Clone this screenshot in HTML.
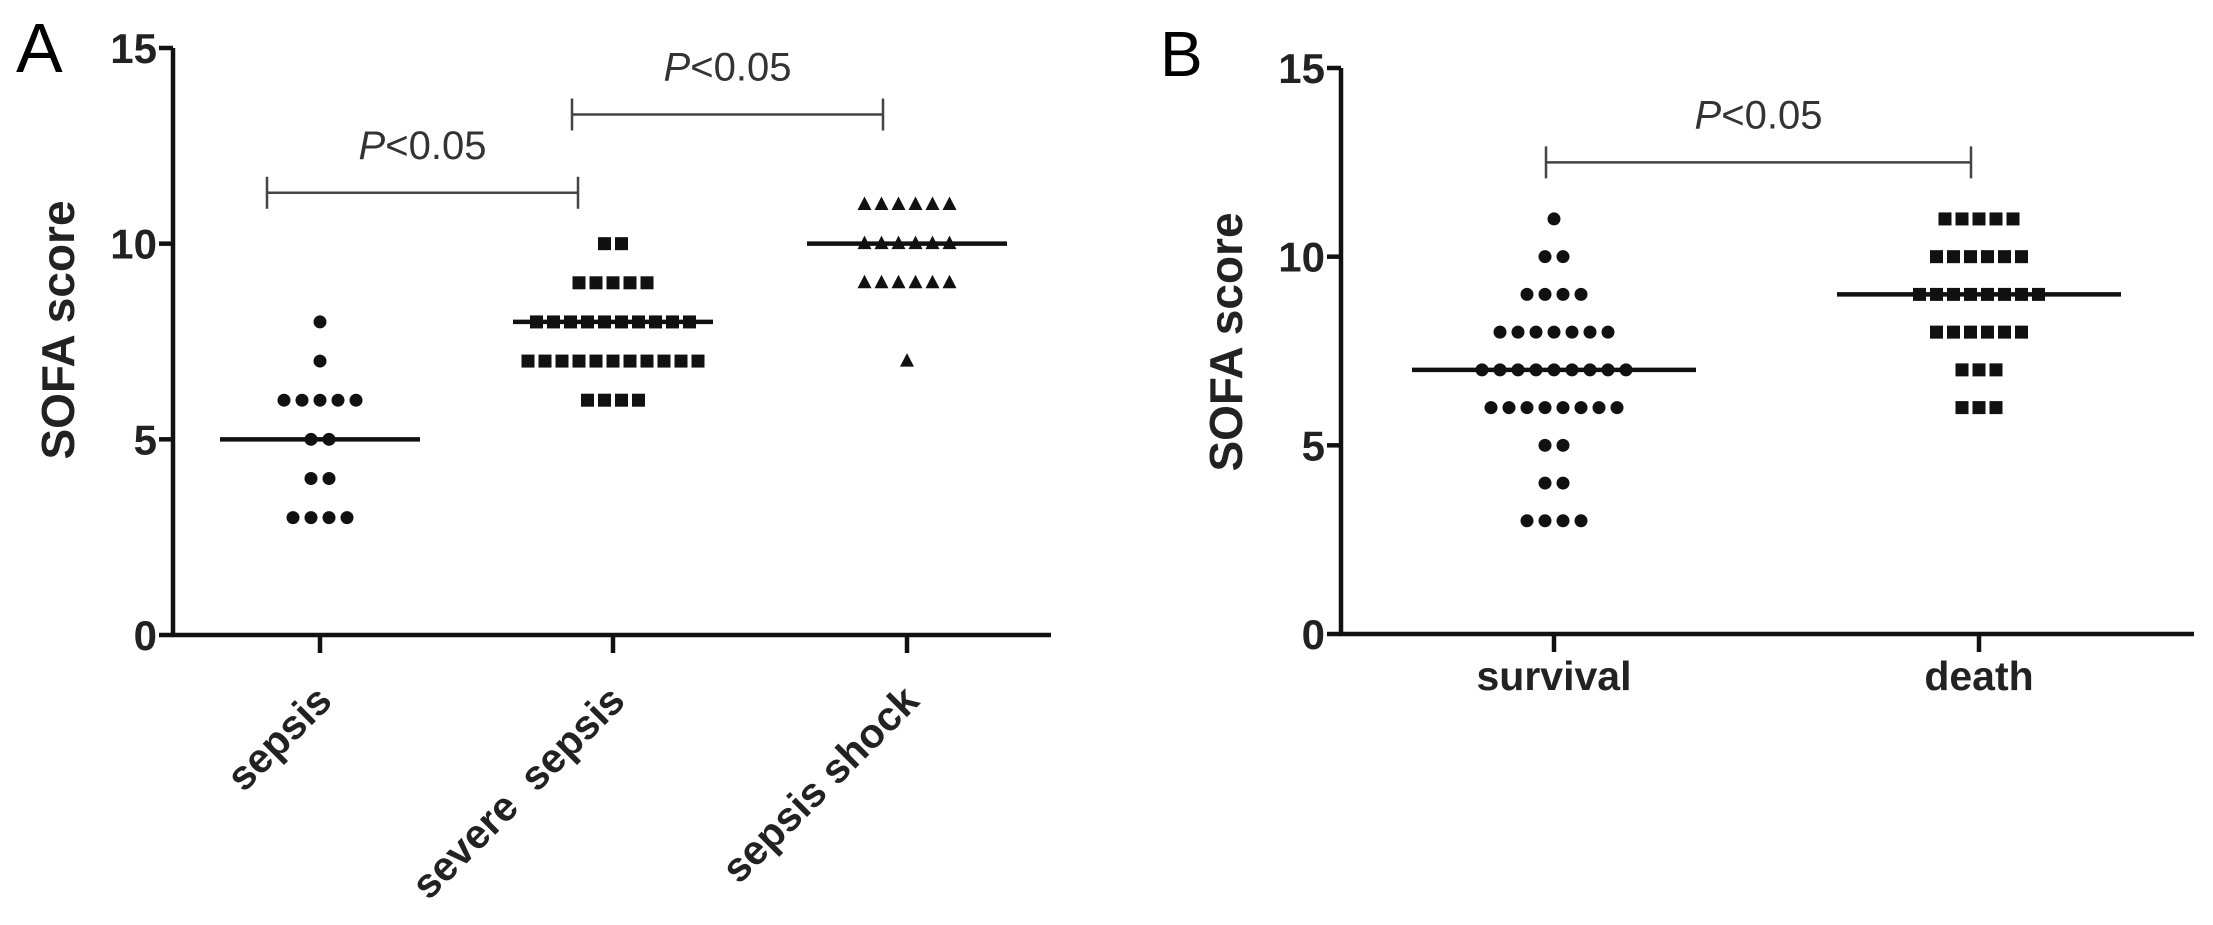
<!DOCTYPE html>
<html><head><meta charset="utf-8"><style>
html,body{margin:0;padding:0;background:#fff;}
svg{display:block;font-family:"Liberation Sans",Arial,sans-serif;}
text{white-space:pre;}
</style></head><body>
<svg id="fig" width="2213" height="925" viewBox="0 0 2213 925">
<text x="16" y="72" font-size="70">A</text>
<text x="1160" y="76" font-size="64">B</text>
<g id="pa"></g>
<g id="pb"></g>
</svg>
<script>
const aCategories = ["sepsis", "severe  sepsis", "sepsis shock"];
const aScores = [3,4,5,6,7,8];
const aSepsisCounts = [4,2,2,5,1,1];
const aSevereScores = [6,7,8,9,10];
const aSevereCounts = [4,11,10,5,2];
const aShockScores = [7,9,10,11];
const aShockCounts = [1,6,6,6];
const aMedians = [5,8,10];
const bCategories = ["survival","death"];
const bSurvScores = [3,4,5,6,7,8,9,10,11];
const bSurvCounts = [4,2,2,8,9,7,4,2,1];
const bDeathScores = [6,7,8,9,10,11];
const bDeathCounts = [3,3,6,8,6,5];
const bMedians = [7,9];
const yTicks = [0,5,10,15];

const NS="http://www.w3.org/2000/svg";
function mk(p,tag,at){const e=document.createElementNS(NS,tag);for(const k in at)e.setAttribute(k,at[k]);p.appendChild(e);return e;}

function panel(g,o){
  const y=v=>o.y0-(o.y0-o.y15)*v/15;
  const x=i=>o.cx[i];
  let e=mk(g,'line',{x1:o.ax,y1:o.y15,x2:o.ax,y2:o.y0+2,stroke:'#111','stroke-width':4.5});
  
  e=mk(g,'line',{x1:o.ax-2,y1:o.y0,x2:o.xend,y2:o.y0,stroke:'#111','stroke-width':4.5});
  
  yTicks.forEach(t=>{
    let l=mk(g,'line',{x1:o.ax-14,y1:y(t),x2:o.ax,y2:y(t),stroke:'#111','stroke-width':4.5});
    
    let tx=mk(g,'text',{x:o.ax-16,y:y(t)+15,'font-size':42,'font-weight':'bold','text-anchor':'end',fill:'#222'});
    tx.textContent=t;
    
  });
  let yt=mk(g,'text',{x:0,y:0,'font-size':46,'font-weight':'bold','text-anchor':'middle',fill:'#222',transform:`translate(${o.titleX},${o.titleY}) rotate(-90)`});
  yt.textContent='SOFA score';
  o.cats.forEach((c,i)=>{
    let l=mk(g,'line',{x1:x(i),y1:o.y0,x2:x(i),y2:o.y0+18,stroke:'#111','stroke-width':4.5});
    
    let t;
    if(o.rot){t=mk(g,'text',{x:0,y:0,'font-size':41,'font-weight':'bold','text-anchor':'end',fill:'#222',transform:`translate(${x(i)+14},${o.y0+68}) rotate(-45)`});}
    else{t=mk(g,'text',{x:x(i),y:o.y0+56,'font-size':41,'font-weight':'bold','text-anchor':'middle',fill:'#222'});}
    t.textContent=c;
  });
  o.series.forEach((s,i)=>{
    const sp = s.shape==='c'?18:17;
    s.scores.forEach((v,j)=>{
      const n=s.counts[j];
      for(let k=0;k<n;k++){
        const px=x(i)+(k-(n-1)/2)*sp, py=y(v);
        let m;
        if(s.shape==='c')m=mk(g,'circle',{cx:px,cy:py,r:6.5,fill:'#111'});
        else if(s.shape==='s')m=mk(g,'rect',{x:px-6.5,y:py-6.5,width:13,height:13,fill:'#111'});
        else m=mk(g,'polygon',{points:`${px},${py-8} ${px-7},${py+5.5} ${px+7},${py+5.5}`,fill:'#111'});
        
      }
    });
  });
  o.medians.forEach((v,i)=>{
    let l=mk(g,'line',{x1:x(i)-o.mw,y1:y(v),x2:x(i)+o.mw,y2:y(v),stroke:'#111','stroke-width':4.5});
    
  });
  o.brackets.forEach(b=>{
    const by=y(b.v);
    let p=mk(g,'path',{d:`M${b.x1},${by-16}V${by+16}M${b.x1},${by}H${b.x2}M${b.x2},${by-16}V${by+16}`,stroke:'#444','stroke-width':2.5,fill:'none'});
    
    let t=mk(g,'text',{x:(b.x1+b.x2)/2,y:by-34,'font-size':40,'text-anchor':'middle',fill:'#333'});
    t.innerHTML='<tspan font-style="italic">P</tspan>&lt;0.05';
    
  });
}
panel(document.getElementById('pa'),{ax:173,xend:1051,y0:635,y15:48,cx:[320,613,907],cats:aCategories,rot:true,titleX:74,titleY:330,
  series:[{scores:aScores,counts:aSepsisCounts,shape:'c'},{scores:aSevereScores,counts:aSevereCounts,shape:'s'},{scores:aShockScores,counts:aShockCounts,shape:'t'}],
  medians:aMedians,mw:100,
  brackets:[{x1:267,x2:578,v:11.3},{x1:572,x2:883,v:13.3}]});
panel(document.getElementById('pb'),{ax:1341,xend:2194,y0:634,y15:68,cx:[1554,1979],cats:bCategories,rot:false,titleX:1242,titleY:342,
  series:[{scores:bSurvScores,counts:bSurvCounts,shape:'c'},{scores:bDeathScores,counts:bDeathCounts,shape:'s'}],
  medians:bMedians,mw:142,
  brackets:[{x1:1546,x2:1971,v:12.5}]});
</script>
</body></html>
